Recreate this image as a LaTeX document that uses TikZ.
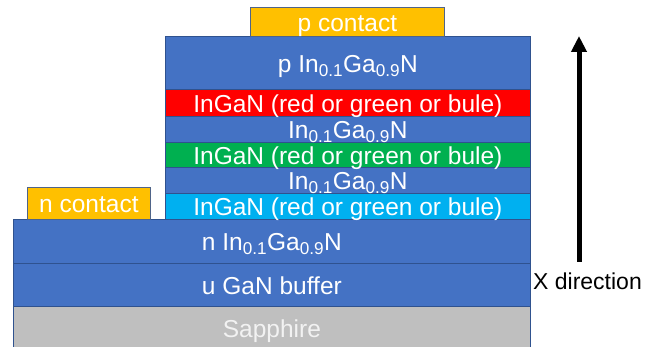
\documentclass[tikz,border=0pt]{standalone}
\usepackage{fontspec}
\setmainfont{Liberation Sans}
\usetikzlibrary{arrows.meta}
\definecolor{cblue}{HTML}{4472C4}
\definecolor{cedge}{HTML}{2F528F}
\definecolor{cred}{HTML}{FF0000}
\definecolor{cgreen}{HTML}{00B050}
\definecolor{clblue}{HTML}{00B0F0}
\definecolor{corange}{HTML}{FFC000}
\definecolor{cgray}{HTML}{BFBFBF}
\begin{document}
\begin{tikzpicture}[x=1pt,y=1pt,
  layer/.style={draw=cedge, line width=0.8pt, rectangle, inner sep=0pt, anchor=north west,
    text=white, font=\fontsize{24.5}{26}\selectfont, text height=19pt, text depth=0pt},
  mqw/.style={layer, minimum width=365pt, minimum height=26pt},
]
\useasboundingbox (0,0) rectangle (654,-347);
% substrate and buffer
\node[layer, fill=cgray, minimum width=517pt, minimum height=43pt, text=white!95!black] (sapph) at (13,-306) {Sapphire};
\node[layer, fill=cblue, minimum width=517pt, minimum height=43pt] (ugan) at (13,-263) {u GaN buffer};
\node[layer, fill=cblue, minimum width=517pt, minimum height=44pt] (ningan) at (13,-219) {n In\textsubscript{0.1}Ga\textsubscript{0.9}N};
% n contact
\node[layer, fill=corange, draw=cedge!60!gray, minimum width=123pt, minimum height=32pt] (ncont) at (27,-187) {n contact};
% MQW stack
\node[mqw, fill=clblue] (q3) at (165,-193) {InGaN (red or green or bule)};
\node[mqw, fill=cblue] (b2) at (165,-167) {In\textsubscript{0.1}Ga\textsubscript{0.9}N};
\node[mqw, fill=cgreen, minimum height=25pt] (q2) at (165,-142) {InGaN (red or green or bule)};
\node[mqw, fill=cblue] (b1) at (165,-116) {In\textsubscript{0.1}Ga\textsubscript{0.9}N};
\node[mqw, fill=cred, minimum height=27pt] (q1) at (165,-89) {InGaN (red or green or bule)};
\node[layer, fill=cblue, minimum width=365pt, minimum height=53pt] (pingan) at (165,-36) {p In\textsubscript{0.1}Ga\textsubscript{0.9}N};
% p contact
\node[layer, fill=corange, draw=cedge!60!gray, minimum width=194pt, minimum height=29pt] (pcont) at (250,-7) {p contact};
% direction arrow
\coordinate (abot) at (579,-262);
\coordinate (atop) at (579,-36);
\draw[line width=5pt, -{Triangle[length=16pt,width=15pt]}] (abot) -- (atop);
\node[font=\fontsize{23}{25}\selectfont, inner sep=0pt] (xdir) at (587.5,-281) {X direction};
\end{tikzpicture}
\end{document}
